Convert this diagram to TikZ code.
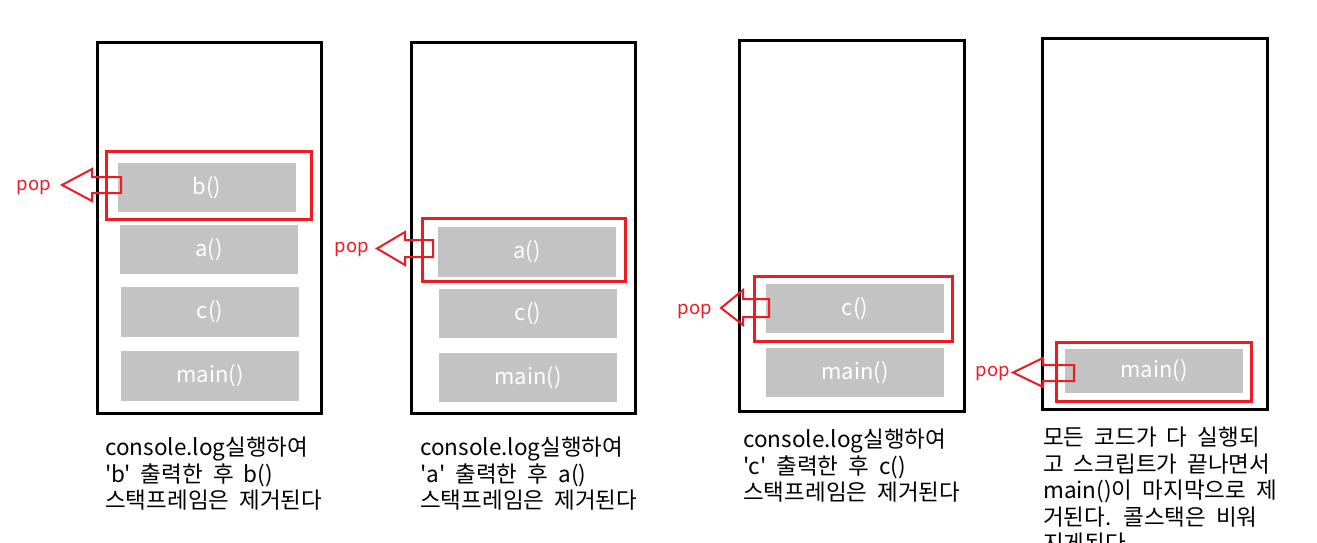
\documentclass[tikz,border=0pt]{standalone}
\usepackage{fontspec}
\newfontfamily\kr{Noto Sans CJK KR}[Ligatures=TeXOff,WordSpace=2]
\definecolor{pred}{RGB}{237,28,36}
\definecolor{sgray}{RGB}{195,195,195}
\begin{document}
\begin{tikzpicture}[x=1pt,y=-1pt,
  frame/.style={draw=black,line width=3pt,fill=none,inner sep=0pt},
  gbox/.style={fill=sgray,draw=none,text=white,inner sep=0pt,font=\kr\fontsize{22}{24}\selectfont,minimum width=178pt},
  rbox/.style={draw=pred,line width=3pt},
  popar/.style={draw=pred,line width=2pt,line join=miter},
  poplbl/.style={text=pred,font=\kr\fontsize{18.5}{20}\selectfont,inner sep=0pt},
  desc/.style={anchor=north west,inner sep=0pt,align=left,font=\kr\fontsize{22.5}{26.5}\selectfont}]
\useasboundingbox[fill=white] (0,0) rectangle (1317,543);
% frames
\node[frame,minimum width=224pt,minimum height=370pt] (f1) at (209,228) {};
\node[frame,minimum width=224pt,minimum height=370pt] (f2) at (523,228) {};
\node[frame,minimum width=225pt,minimum height=370pt] (f3) at (851.5,226) {};
\node[frame,minimum width=225pt,minimum height=370pt] (f4) at (1154.5,224) {};
% stack frames 1
\node[gbox,minimum height=49pt] (b1) at (207,187.5) {b()};
\node[gbox,minimum height=49pt] (a1) at (209,249.5) {a()};
\node[gbox,minimum height=50pt] (c1) at (210,312) {c()};
\node[gbox,minimum height=50pt] (m1) at (210,376) {main()};
% stack frames 2
\node[gbox,minimum height=50pt] (a2) at (527,252) {a()};
\node[gbox,minimum height=49pt] (c2) at (528,313.5) {c()};
\node[gbox,minimum height=49pt] (m2) at (528,377.5) {main()};
% stack frames 3
\node[gbox,minimum height=49pt] (c3) at (855,308.5) {c()};
\node[gbox,minimum height=49pt] (m3) at (855,372.5) {main()};
% stack frames 4
\node[gbox,minimum height=44pt] (m4) at (1154,371) {main()};
% red boxes
\draw[rbox] (106,151) rectangle (311,219);
\draw[rbox] (422,218) rectangle (625,281);
\draw[rbox] (754,276) rectangle (952,341);
\draw[rbox] (1056,342) rectangle (1251,401);
% pop arrows
\draw[popar] (121,177) -- (92,177) -- (92,169) -- (62,185) -- (92,201) -- (92,193) -- (121,193) -- cycle;
\draw[popar] (433,240) -- (405,240) -- (405,232) -- (377,248.5) -- (405,265) -- (405,257) -- (433,257) -- cycle;
\draw[popar] (769,299) -- (743,299) -- (743,290) -- (721,308) -- (743,325) -- (743,317) -- (769,317) -- cycle;
\draw[popar] (1074,365) -- (1043,365) -- (1043,358) -- (1013,372.5) -- (1043,387) -- (1043,381) -- (1074,381) -- cycle;
\node[poplbl] (p1) at (34,187) {pop};
\node[poplbl] (p2) at (352,249) {pop};
\node[poplbl] (p3) at (695,311) {pop};
\node[poplbl] (p4) at (993,373) {pop};
% descriptions
\node[desc] (t1) at (105,437) {console.log실행하여\\'b' 출력한 후 b()\\스택프레임은 제거된다};
\node[desc] (t2) at (420,437) {console.log실행하여\\'a' 출력한 후 a()\\스택프레임은 제거된다};
\node[desc] (t3) at (743,429) {console.log실행하여\\'c' 출력한 후 c()\\스택프레임은 제거된다};
\node[desc] (t4) at (1043,427) {모든 코드가 다 실행되\\고 스크립트가 끝나면서\\main()이 마지막으로 제\\거된다. 콜스택은 비워\\지게된다};
\end{tikzpicture}
\end{document}
